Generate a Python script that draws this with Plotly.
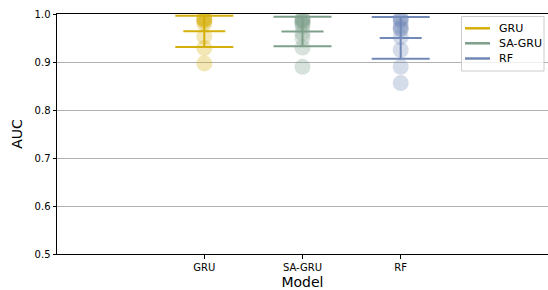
import numpy as np
import plotly.graph_objects as go

models = ["GRU", "SA-GRU", "RF"]
colors = ["#d4af0a", "#7e9f8a", "#7189b6"]

gru_auc = [0.990, 0.990, 0.988, 0.985, 0.980, 0.953, 0.929, 0.897]
sagru_auc = [0.990, 0.990, 0.985, 0.985, 0.980, 0.975, 0.960, 0.950, 0.930, 0.890]
rf_auc = [0.990, 0.990, 0.985, 0.975, 0.970, 0.968, 0.952, 0.925, 0.890, 0.856]

y_ticks = [0.5, 0.6, 0.7, 0.8, 0.9, 1.0]

series = [gru_auc, sagru_auc, rf_auc]

fig = go.Figure()
FONT = "DejaVu Sans"

for i, (name, vals, col) in enumerate(zip(models, series, colors)):
    vals = np.array(vals)
    fig.add_trace(go.Scatter(
        x=[i] * len(vals), y=vals, mode="markers", name=name,
        marker=dict(size=16, color=col, opacity=0.3, line=dict(width=0)),
        showlegend=False, hoverinfo="skip", cliponaxis=True))

for i, (name, vals, col) in enumerate(zip(models, series, colors)):
    vals = np.array(vals)
    m = vals.mean()
    s = vals.std()
    fig.add_trace(go.Scatter(
        x=[i], y=[m], mode="markers", name=name,
        marker=dict(symbol="line-ew", size=30, color=col,
                    line=dict(width=2, color=col)),
        error_y=dict(type="data", array=[s], symmetric=True,
                     thickness=2, width=29, color=col),
        showlegend=False, cliponaxis=True))

# manual legend (matplotlib-like compact spacing)
L, T, W, H = 57, 14, 491, 240
px = lambda x: (x - L) / W
py = lambda y: 1 - (y - T) / H
shapes = [dict(type="rect", xref="paper", yref="paper",
               x0=px(461.5), x1=px(544), y0=py(71), y1=py(16.5),
               fillcolor="rgba(255,255,255,0.8)",
               line=dict(color="#cccccc", width=1), layer="above")]
annotations = []
rows = [28.3, 43.3, 58.5]
for name, col, ry in zip(models, colors, rows):
    shapes.append(dict(type="line", xref="paper", yref="paper",
                       x0=px(465), x1=px(490), y0=py(ry), y1=py(ry),
                       line=dict(color=col, width=2.5), layer="above"))
    annotations.append(dict(xref="paper", yref="paper", x=px(496.5), y=py(ry),
                            text=name, showarrow=False, xanchor="left",
                            yanchor="middle",
                            font=dict(family=FONT, size=11, color="black")))

fig.update_layout(
    width=548, height=290,
    margin=dict(l=57, r=0, t=14, b=36),
    plot_bgcolor="white", paper_bgcolor="white",
    font=dict(family=FONT, size=10, color="black"),
    showlegend=False,
    shapes=shapes, annotations=annotations,
)

fig.update_xaxes(
    range=[-1.5, 3.5], tickvals=[0, 1, 2], ticktext=models,
    showline=True, linecolor="black", linewidth=1, mirror=True,
    ticks="outside", ticklen=3.5, tickcolor="black",
    showgrid=False, zeroline=False,
    title=dict(text="Model", font=dict(family=FONT, size=14), standoff=5),
)
fig.update_yaxes(
    range=[0.5, 1.0], tickvals=y_ticks, tickformat=".1f",
    showline=True, linecolor="black", linewidth=1,
    ticks="outside", ticklen=3.5, tickcolor="black",
    showgrid=True, gridcolor="#b0b0b0", gridwidth=1.2, zeroline=False,
    title=dict(text="AUC", font=dict(family=FONT, size=14), standoff=8),
)

fig.write_html("out.html", config={"displayModeBar": False},
               post_script="document.body.style.margin='0';")
